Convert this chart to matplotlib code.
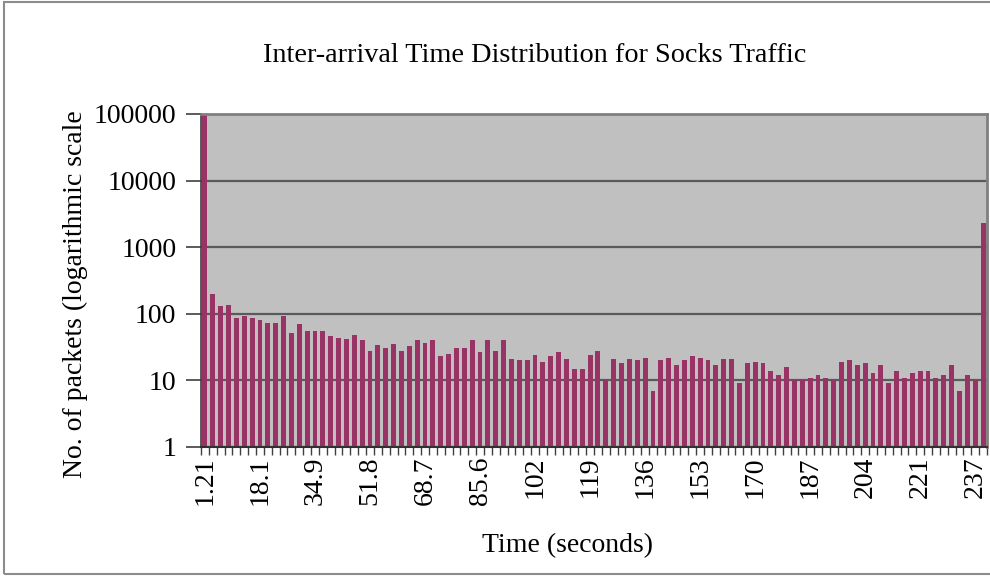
import matplotlib
matplotlib.use("Agg")
import matplotlib.pyplot as plt
from matplotlib.ticker import FixedLocator, NullLocator
from matplotlib.transforms import Bbox, TransformedBbox
from matplotlib.patches import Rectangle

# ---- data ----
packet_counts = [
    95000, 198, 130, 137, 87, 92, 87, 80, 74, 74,
    92, 51, 70, 55, 55, 55, 46, 44, 42, 48,
    40, 28, 34, 31, 35, 28, 33, 40, 36, 41,
    23, 25, 31, 31, 40, 27, 40, 28, 40, 21,
    20, 20, 24, 19, 23, 27, 21, 15, 15, 24,
    28, 10, 21, 18, 21, 20, 22, 7, 20, 22,
    17, 20, 23, 22, 20, 17, 21, 21, 9, 18,
    19, 18, 14, 12, 16, 10, 10, 11, 12, 11,
    10, 19, 20, 17, 18, 13, 17, 9, 14, 11,
    13, 14, 14, 11, 12, 17, 7, 12, 10, 2300,
]
tick_labels = ["1.21", "18.1", "34.9", "51.8", "68.7", "85.6", "102", "119",
               "136", "153", "170", "187", "204", "221", "237"]
label_every = 7
y_ticks = [1, 10, 100, 1000, 10000, 100000]

title = "Inter-arrival Time Distribution for Socks Traffic"
xlabel = "Time (seconds)"
ylabel = "No. of packets (logarithmic scale)"

# ---- style ----
W, H = 990, 577
plt.rcParams["font.family"] = ["Liberation Serif", "DejaVu Serif"]
FS = 20

fig = plt.figure(figsize=(W / 100, H / 100), dpi=100)
fig.patch.set_facecolor("white")

L, R, T, B = 201, 987, 114, 447
ax = fig.add_axes([L / W, 1 - B / H, (R - L) / W, (B - T) / H])
ax.set_facecolor("#C0C0C0")

n = len(packet_counts)
xs = list(range(n))
ax.bar(xs, packet_counts, width=0.62, color="#993366", zorder=3)
ax.set_yscale("log")
ax.set_ylim(1, 100000)
ax.set_xlim(-0.5, n - 0.5)

# y axis
ax.yaxis.set_major_locator(FixedLocator(y_ticks))
ax.yaxis.set_minor_locator(NullLocator())
ax.set_yticklabels([str(v) for v in y_ticks], fontsize=FS)
ax.tick_params(axis="y", which="major", direction="out", length=10.8, width=1.2,
               color="#404040", pad=7)
ax.grid(axis="y", which="major", color="#5a5a5a", linewidth=1.6, zorder=1)

# x axis: ticks at category boundaries, labels every 7th category
label_pos = [i * label_every for i in range(len(tick_labels))]
ax.xaxis.set_major_locator(FixedLocator(label_pos))
ax.set_xticklabels(tick_labels, rotation=90, fontsize=FS, va="top", ha="center")
ax.tick_params(axis="x", which="major", length=0, pad=7)
ax.xaxis.set_minor_locator(FixedLocator([k - 0.5 for k in range(n + 1)]))
ax.tick_params(axis="x", which="minor", direction="out", length=5.8, width=1,
               color="#404040")

for side in ["top", "right"]:
    ax.spines[side].set_color("#808080")
    ax.spines[side].set_linewidth(2)
ax.spines["left"].set_color("#404040")
ax.spines["left"].set_linewidth(1.2)
ax.spines["bottom"].set_color("#303030")
ax.spines["bottom"].set_linewidth(1.5)
for s in ax.spines.values():
    s.set_zorder(5)

# texts
fig.text(535 / W, 1 - 56 / H, title, fontsize=FS + 0.3, ha="center", va="center")
fig.text(567 / W, 1 - 546 / H, xlabel, fontsize=FS, ha="center", va="center")
yl = fig.text(75 / W, 1 - 289 / H, ylabel, fontsize=FS, rotation=90,
              ha="center", va="center", clip_on=True)
yl.set_clip_box(TransformedBbox(Bbox([[0, 0], [1, 1 - 111 / H]]), fig.transFigure))

# outer chart border
fig.patches.append(Rectangle((4 / W, 1 - 574 / H), (W + 10) / W, 572 / H,
                             transform=fig.transFigure, fill=False,
                             edgecolor="#8c8c8c", linewidth=1.5))

fig.savefig("out.png", dpi=100)
